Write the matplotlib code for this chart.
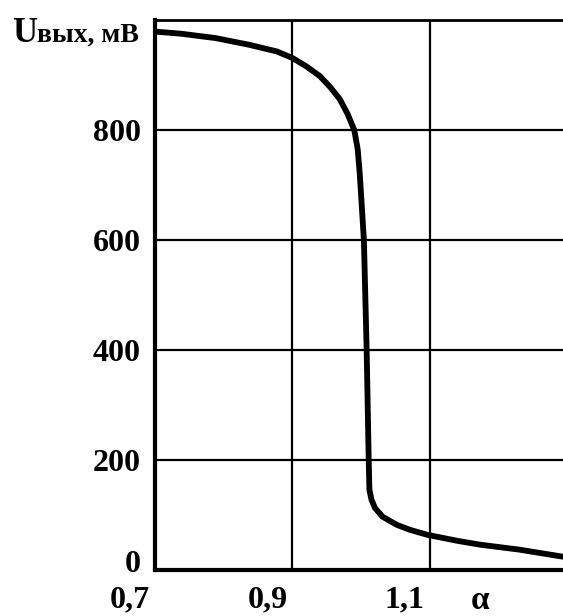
import matplotlib
matplotlib.use('Agg')
from matplotlib import pyplot as plt
from matplotlib.transforms import ScaledTranslation

# output voltage vs alpha
alpha = [0.700, 0.739, 0.789, 0.837, 0.877, 0.900, 0.920, 0.940, 0.955, 0.969,
         0.980, 0.990, 0.995, 0.998, 1.001, 1.004, 1.008, 1.011, 1.012, 1.015,
         1.020, 1.031, 1.052, 1.071, 1.096, 1.140, 1.173, 1.230, 1.294]
u_out = [979, 975, 967, 955, 943, 931, 916, 898, 878, 856,
         830, 800, 765, 720, 660, 600, 400, 200, 146, 128,
         113, 97, 82, 73, 64, 53, 46, 37, 24]

xticks = [0.7, 0.9, 1.1]
xlabels = ['0,7', '0,9', '1,1']
yticks = [0, 200, 400, 600, 800]

serif = 'Liberation Serif'
fig = plt.figure(figsize=(5.63, 6.16), dpi=100)
ax = fig.add_axes([0.275, 0.0747, 0.725, 0.8928])

ax.plot(alpha, u_out, color='black', lw=4.2, solid_capstyle='butt',
        solid_joinstyle='round', zorder=3)

ax.set_xlim(0.7, 1.2935)
ax.set_ylim(0, 1000)
ax.set_xticks(xticks)
ax.set_xticklabels(xlabels)
ax.set_yticks(yticks)
ax.grid(True, color='black', lw=1.6)
ax.tick_params(length=0)
ax.tick_params(axis='y', pad=10)
ax.tick_params(axis='x', pad=11)
for lab in ax.get_xticklabels() + ax.get_yticklabels():
    lab.set_fontfamily(serif)
    lab.set_fontweight('bold')
    lab.set_fontsize(23)
for lab in ax.get_xticklabels():
    lab.set_transform(lab.get_transform() + ScaledTranslation(-0.25, 0, fig.dpi_scale_trans))
# the zero label sits a little above the x axis
zero = ax.get_yticklabels()[0]
zero.set_transform(zero.get_transform() + ScaledTranslation(0, 0.09, fig.dpi_scale_trans))

ax.spines['right'].set_visible(False)
ax.spines['left'].set_linewidth(3)
ax.spines['bottom'].set_linewidth(3)
ax.spines['top'].set_linewidth(2)

# axis titles
fig.text(12 / 563, 1 - 42 / 616, 'U', family=serif, fontweight='bold',
         fontsize=25, ha='left', va='baseline')
fig.text(37 / 563, 1 - 42 / 616, 'вых, мВ', family=serif, fontweight='bold',
         fontsize=20, ha='left', va='baseline')
fig.text(480 / 563, 1 - 609 / 616, 'α', family=serif, fontweight='bold',
         fontsize=24, ha='center', va='baseline')

fig.savefig('out.png', dpi=100, facecolor='white')
